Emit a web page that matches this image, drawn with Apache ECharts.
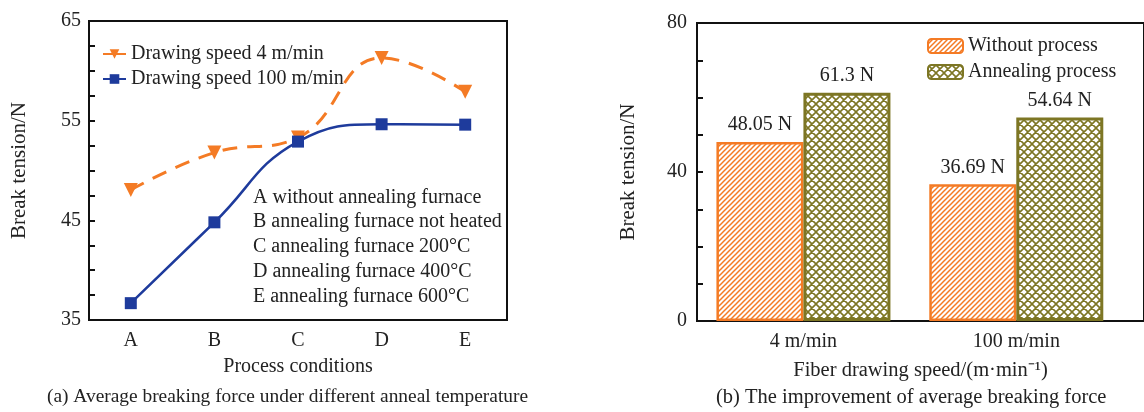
<!DOCTYPE html>
<html lang="en">
<head>
    <meta charset="UTF-8">
    <title>Break tension</title>
    <script src="https://cdn.jsdelivr.net/npm/echarts@6/dist/echarts.min.js"></script>
    <style>
        html,body{margin:0;padding:0;background:#fff;overflow:hidden;}
        #chart{width:1144px;height:412px;}
    </style>
</head>
<body>
<div id="chart"></div>
<script>
    // left: process conditions
    var conditions = ['A', 'B', 'C', 'D', 'E'];
    var speed4 = [48.05, 51.8, 53.3, 61.3, 57.9];
    var speed100 = [36.69, 44.8, 52.9, 54.64, 54.6];
    var notes = [
        'A without annealing furnace',
        'B annealing furnace not heated',
        'C annealing furnace 200°C',
        'D annealing furnace 400°C',
        'E annealing furnace 600°C'
    ];
    // right: drawing speed
    var speeds = ['4 m/min', '100 m/min'];
    var withoutProc = [48.05, 36.69];
    var annealProc = [61.3, 54.64];

    var FONT = 'Liberation Serif';
    var ORANGE = '#f47b25';
    var BLUE = '#1e3b9c';
    var OLIVE = '#7d7624';

    function hatch(color, cross){
        var s = cross ? 8 : 5;
        var c = document.createElement('canvas');
        c.width = s; c.height = s;
        var g = c.getContext('2d');
        g.fillStyle = '#fff';
        g.fillRect(0, 0, s, s);
        g.strokeStyle = color;
        g.lineWidth = cross ? 1.6 : 1.5;
        g.beginPath();
        g.moveTo(-1, s + 1); g.lineTo(s + 1, -1);
        g.moveTo(-1, 1); g.lineTo(1, -1);
        g.moveTo(s - 1, s + 1); g.lineTo(s + 1, s - 1);
        if(cross){
            g.moveTo(-1, -1); g.lineTo(s + 1, s + 1);
            g.moveTo(s - 1, -1); g.lineTo(s + 1, 1);
            g.moveTo(-1, s - 1); g.lineTo(1, s + 1);
        }
        g.stroke();
        return {image: c, repeat: 'repeat'};
    }

    var txt = {fontFamily: FONT, fontSize: 20, color: '#222'};
    var ytxt = {fontFamily: FONT, fontSize: 21, color: '#222'};

    var chart = echarts.init(document.getElementById('chart'));
    var option = {
        animation: false,
        textStyle: {fontFamily: FONT},
        grid: [
            {left: 89, right: 637, top: 21, bottom: 92, show: true, borderColor: '#111', borderWidth: 2},
            {left: 697, right: -7, top: 23, bottom: 91, show: true, borderColor: '#111', borderWidth: 2}
        ],
        legend: [
            {
                orient: 'vertical', left: 97, top: 39, itemGap: 5,
                itemWidth: 23, itemHeight: 12,
                textStyle: {fontFamily: FONT, fontSize: 20, color: '#222'},
                lineStyle: {type: 'solid'},
                data: ['Drawing speed 4 m/min', 'Drawing speed 100 m/min']
            },
            {
                orient: 'vertical', left: 922, top: 31, itemGap: 6,
                itemWidth: 35, itemHeight: 14,
                textStyle: {fontFamily: FONT, fontSize: 20, color: '#222'},
                data: ['Without process', 'Annealing process']
            }
        ],
        xAxis: [
            {
                gridIndex: 0, type: 'category', data: conditions,
                name: 'Process conditions', nameLocation: 'middle', nameGap: 37,
                nameTextStyle: txt,
                axisLine: {lineStyle: {color: '#111', width: 2}},
                axisTick: {inside: true, length: 5, lineStyle: {color: '#111', width: 2}},
                axisLabel: {fontFamily: FONT, fontSize: 20, color: '#222', margin: 11}
            },
            {
                gridIndex: 1, type: 'value', min: 0, max: 2.1, interval: 0.5,
                name: 'Fiber drawing speed/(m·min⁻¹)', nameLocation: 'middle', nameGap: 39,
                nameTextStyle: {fontFamily: FONT, fontSize: 20.5, color: '#222'},
                axisLine: {lineStyle: {color: '#111', width: 2}},
                axisTick: {show: false},
                splitLine: {show: false},
                axisLabel: {
                    fontFamily: FONT, fontSize: 20, color: '#222', margin: 11,
                    showMaxLabel: false,
                    formatter: function(v){
                        var i = Math.round(v - 0.5);
                        return Math.abs(v - 0.5 - i) < 1e-6 && speeds[i] ? speeds[i] : '';
                    }
                }
            }
        ],
        yAxis: [
            {
                gridIndex: 0, type: 'value', min: 35, max: 65, interval: 10,
                name: 'Break tension/N', nameLocation: 'middle', nameGap: 59,
                nameTextStyle: ytxt,
                axisLine: {show: true, lineStyle: {color: '#111', width: 2}},
                axisTick: {show: true, inside: true, length: 6, lineStyle: {color: '#111', width: 2}},
                minorTick: {show: true, splitNumber: 4, length: 6, lineStyle: {color: '#111', width: 2}},
                splitLine: {show: false},
                axisLabel: {fontFamily: FONT, fontSize: 20, color: '#222', margin: 8}
            },
            {
                gridIndex: 1, type: 'value', min: 0, max: 80, interval: 40,
                name: 'Break tension/N', nameLocation: 'middle', nameGap: 58,
                nameTextStyle: ytxt,
                axisLine: {show: true, lineStyle: {color: '#111', width: 2}},
                axisTick: {show: true, inside: true, length: 6, lineStyle: {color: '#111', width: 2}},
                minorTick: {show: true, splitNumber: 4, length: 6, lineStyle: {color: '#111', width: 2}},
                splitLine: {show: false},
                axisLabel: {fontFamily: FONT, fontSize: 20, color: '#222', margin: 10}
            }
        ],
        series: [
            {
                name: 'Drawing speed 4 m/min', type: 'line', xAxisIndex: 0, yAxisIndex: 0,
                data: speed4, smooth: 0.45,
                symbol: 'triangle', symbolRotate: 180, symbolSize: 14,
                itemStyle: {color: ORANGE},
                lineStyle: {color: ORANGE, width: 3, type: [15, 10]},
                z: 2
            },
            {
                name: 'Drawing speed 100 m/min', type: 'line', xAxisIndex: 0, yAxisIndex: 0,
                data: speed100, smooth: 0.45,
                symbol: 'rect', symbolSize: 12,
                itemStyle: {color: BLUE},
                lineStyle: {color: BLUE, width: 2.5},
                z: 3
            },
            {
                name: 'Without process', type: 'bar', xAxisIndex: 1, yAxisIndex: 1,
                data: withoutProc.map(function(v, i){ return [i + 0.5, v]; }),
                barWidth: 87, barGap: '0%',
                itemStyle: {color: hatch(ORANGE, false), borderColor: ORANGE, borderWidth: 2.5},
                label: {
                    show: true, position: 'top', distance: 7,
                    fontFamily: FONT, fontSize: 20, color: '#222',
                    formatter: function(p){ return p.value[1] + ' N'; }
                }
            },
            {
                name: 'Annealing process', type: 'bar', xAxisIndex: 1, yAxisIndex: 1,
                data: annealProc.map(function(v, i){ return [i + 0.5, v]; }),
                barWidth: 87, barGap: '0%',
                itemStyle: {color: hatch(OLIVE, true), borderColor: OLIVE, borderWidth: 3},
                label: {
                    show: true, position: 'top', distance: 7,
                    fontFamily: FONT, fontSize: 20, color: '#222',
                    formatter: function(p){ return p.value[1] + ' N'; }
                }
            }
        ],
        graphic: [
            {
                type: 'text', left: 253, top: 185,
                style: {text: notes.join('\n'), font: '20px "Liberation Serif"', lineHeight: 24.8, fill: '#222'}
            },
            {
                type: 'text', left: 47, top: 387,
                style: {text: '(a) Average breaking force under different anneal temperature', font: '19.4px "Liberation Serif"', fill: '#222'}
            },
            {
                type: 'text', left: 716, top: 387,
                style: {text: '(b) The improvement of average breaking force', font: '20.5px "Liberation Serif"', fill: '#222'}
            }
        ]
    };
    chart.setOption(option);
</script>
</body>
</html>
